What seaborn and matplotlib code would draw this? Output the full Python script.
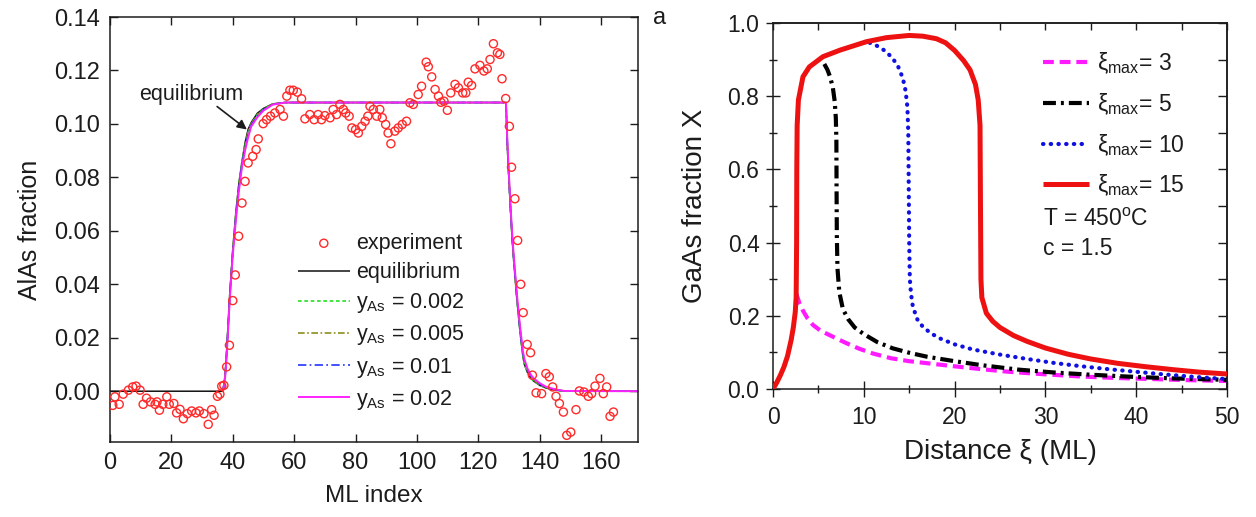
import matplotlib
matplotlib.use("Agg")
import matplotlib.pyplot as plt
from matplotlib.ticker import MultipleLocator, FormatStrFormatter
import seaborn as sns

# ---------------- AlAs fraction profile (left) ----------------
exp_ml = [
    0.9, 1.6, 3.0, 4.3, 6.0, 7.4, 8.5, 9.8, 10.8, 11.9,
    13.2, 14.7, 15.3, 16.1, 17.2, 18.5, 19.3, 20.8, 21.7, 22.8,
    23.9, 25.2, 26.6, 28.0, 29.1, 30.6, 32.0, 33.1, 33.9, 35.0,
    35.8, 36.4, 37.1, 38.0, 38.9, 40.0, 40.8, 41.9, 43.0, 44.0,
    45.0, 46.5, 47.6, 48.3, 49.9, 51.0, 52.3, 53.7, 55.4, 56.5,
    57.6, 58.6, 59.7, 61.0, 62.4, 63.5, 65.1, 66.5, 67.8, 68.9,
    70.0, 71.7, 72.7, 73.8, 74.9, 76.0, 76.8, 77.9, 78.8, 80.0,
    80.9, 82.0, 83.1, 84.0, 84.7, 85.8, 86.9, 87.9, 88.7, 89.8,
    90.6, 91.5, 92.8, 93.9, 95.2, 96.6, 97.7, 98.8, 100.4, 101.5,
    103.0, 103.7, 104.8, 105.9, 107.0, 107.8, 108.8, 109.9, 111.0, 112.4,
    113.5, 114.9, 115.9, 116.7, 117.8, 118.9, 120.5, 121.8, 122.9, 123.8,
    124.9, 126.2, 127.0, 127.7, 128.9, 130.1, 130.8, 131.9, 132.8, 133.8,
    134.6, 135.9, 137.0, 137.6, 138.8, 140.6, 142.0, 143.1, 144.2, 145.3,
    146.4, 147.7, 148.8, 150.1, 151.8, 152.9, 154.4, 155.8, 156.9, 158.0,
    159.6, 160.7, 161.8, 162.9, 164.0,
]
exp_frac = [
    -0.0053, -0.0021, -0.0049, -0.0011, 0.0004, 0.0016, 0.0019, 0.0004, -0.0049, -0.0026,
    -0.0040, -0.0049, -0.0040, -0.0071, -0.0049, -0.0021, -0.0049, -0.0046, -0.0081, -0.0068,
    -0.0103, -0.0084, -0.0074, -0.0081, -0.0074, -0.0084, -0.0124, -0.0069, -0.0090, -0.0019,
    -0.0011, 0.0019, 0.0022, 0.0091, 0.0172, 0.0339, 0.0435, 0.0580, 0.0704, 0.0785,
    0.0854, 0.0879, 0.0904, 0.0944, 0.1001, 0.1016, 0.1029, 0.1041, 0.1054, 0.1029,
    0.1104, 0.1126, 0.1126, 0.1119, 0.1094, 0.1019, 0.1035, 0.1016, 0.1035, 0.1016,
    0.1031, 0.1023, 0.1054, 0.1035, 0.1073, 0.1054, 0.1041, 0.1029, 0.0985, 0.0979,
    0.0966, 0.0991, 0.1010, 0.1029, 0.1066, 0.1054, 0.1029, 0.1054, 0.1023, 0.0998,
    0.0966, 0.0926, 0.0973, 0.0985, 0.0998, 0.1010, 0.1079, 0.1073, 0.1110, 0.1141,
    0.1231, 0.1214, 0.1176, 0.1129, 0.1104, 0.1081, 0.1085, 0.1051, 0.1116, 0.1148,
    0.1135, 0.1116, 0.1116, 0.1156, 0.1144, 0.1206, 0.1219, 0.1198, 0.1206, 0.1241,
    0.1300, 0.1266, 0.1260, 0.1169, 0.1095, 0.0991, 0.0838, 0.0720, 0.0564, 0.0400,
    0.0294, 0.0175, 0.0144, 0.0060, -0.0006, -0.0009, 0.0066, 0.0054, 0.0016, -0.0019,
    -0.0046, -0.0078, -0.0165, -0.0153, -0.0069, 0.0001, -0.0003, -0.0019, -0.0009, 0.0019,
    0.0048, -0.0009, 0.0016, -0.0094, -0.0078,
]

eq_ml = [0, 36.8, 37.5, 38, 39, 40, 41, 42, 43, 44, 45, 46, 48, 50, 53, 57,
         129, 129.5, 130, 130.5, 131, 131.5, 132, 132.5, 133, 133.5, 134, 134.5,
         135, 136, 137, 138, 140, 142, 145, 148, 172]
frac_equilibrium = [0, 0, 0.006, 0.015, 0.036, 0.053, 0.067, 0.078, 0.086, 0.093,
                    0.098, 0.1005, 0.104, 0.1058, 0.1075, 0.108, 0.108, 0.090, 0.078,
                    0.067, 0.057, 0.049, 0.042, 0.035, 0.029, 0.023, 0.018, 0.013,
                    0.010, 0.007, 0.005, 0.0038, 0.0022, 0.0012, 0.0004, 0.0, 0.0]

kin_ml = [36.8, 37.5, 38, 39, 40, 41, 42, 43, 44, 45, 46, 48, 50, 53, 57,
          129, 129.5, 130, 130.5, 131, 131.5, 132, 132.5, 133, 133.5, 134, 134.5,
          135, 136, 137, 138, 140, 142, 145, 148, 172]
frac_y002 = [0, 0.006, 0.015, 0.036, 0.053, 0.066, 0.077, 0.086, 0.092, 0.097,
             0.100, 0.1035, 0.1056, 0.1074, 0.108, 0.108, 0.090, 0.078, 0.067, 0.057,
             0.049, 0.042, 0.035, 0.029, 0.023, 0.018, 0.013, 0.010, 0.007, 0.005,
             0.0039, 0.0023, 0.0013, 0.0005, 0.0, 0.0]
frac_y005 = [0, 0.006, 0.014, 0.035, 0.052, 0.066, 0.077, 0.085, 0.092, 0.097,
             0.100, 0.1033, 0.1055, 0.1074, 0.108, 0.108, 0.091, 0.079, 0.068, 0.058,
             0.050, 0.043, 0.036, 0.030, 0.024, 0.019, 0.014, 0.011, 0.008, 0.0055,
             0.0042, 0.0025, 0.0014, 0.0006, 0.0001, 0.0]
frac_y01 = [0, 0.005, 0.014, 0.035, 0.052, 0.065, 0.076, 0.085, 0.091, 0.096,
            0.0995, 0.103, 0.1053, 0.1073, 0.108, 0.108, 0.091, 0.079, 0.068, 0.058,
            0.050, 0.043, 0.036, 0.030, 0.024, 0.019, 0.0145, 0.011, 0.008, 0.006,
            0.0045, 0.0027, 0.0015, 0.0006, 0.0001, 0.0]
frac_y02 = [0, 0.005, 0.013, 0.034, 0.051, 0.064, 0.075, 0.084, 0.090, 0.095,
            0.099, 0.1025, 0.105, 0.1072, 0.108, 0.108, 0.092, 0.080, 0.069, 0.059,
            0.051, 0.044, 0.037, 0.031, 0.025, 0.020, 0.015, 0.012, 0.0085, 0.0063,
            0.0048, 0.003, 0.0017, 0.0007, 0.0001, 0.0]

# ---------------- GaAs fraction vs distance (right) ----------------
xi_15 = [0, 0.4, 0.8, 1.2, 1.6, 2.0, 2.25, 2.45, 2.55, 2.6, 2.62, 2.66, 2.8, 3.3, 4.0,
         5.5, 7.4, 10.3, 12.5, 15.0, 16.5, 18.0, 19.0, 20.0, 21.0, 21.7, 22.3, 22.6,
         22.8, 22.85, 22.9, 23.0, 23.5, 24.2, 25.0, 26.5, 28.0, 30.0, 32.5, 35.0,
         38.0, 41.0, 44.0, 47.0, 50.0]
gaas_15 = [0, 0.017, 0.037, 0.060, 0.090, 0.134, 0.170, 0.210, 0.250, 0.400, 0.600,
           0.720, 0.790, 0.853, 0.880, 0.908, 0.926, 0.949, 0.960, 0.966, 0.964,
           0.957, 0.946, 0.925, 0.897, 0.872, 0.832, 0.790, 0.720, 0.500, 0.300,
           0.250, 0.207, 0.185, 0.168, 0.146, 0.130, 0.112, 0.095, 0.082, 0.070,
           0.061, 0.053, 0.046, 0.041]
xi_3 = [2.58, 2.9, 3.3, 3.8, 4.4, 5.2, 6.0, 7.0, 8.1, 9.5, 11.0, 13.0, 15.0, 17.5,
        20.0, 23.0, 26.0, 30.0, 34.0, 38.0, 42.0, 46.0, 50.0]
gaas_3 = [0.260, 0.235, 0.214, 0.193, 0.175, 0.160, 0.150, 0.138, 0.125, 0.110, 0.097,
          0.084, 0.076, 0.069, 0.062, 0.054, 0.047, 0.040, 0.034, 0.030, 0.027, 0.024,
          0.022]
xi_5 = [5.65, 6.0, 6.3, 6.6, 6.8, 6.92, 6.98, 7.0, 7.03, 7.1, 7.3, 7.7, 8.3, 9.0, 10.0,
        11.5, 13.2, 15.0, 17.0, 20.0, 23.0, 27.0, 31.0, 35.0, 39.0, 44.0, 50.0]
gaas_5 = [0.888, 0.872, 0.852, 0.822, 0.785, 0.740, 0.680, 0.550, 0.420, 0.330, 0.265,
          0.218, 0.190, 0.168, 0.150, 0.128, 0.111, 0.099, 0.088, 0.076, 0.065, 0.053,
          0.045, 0.039, 0.034, 0.029, 0.025]
xi_10 = [10.65, 11.5, 12.4, 13.2, 13.8, 14.3, 14.6, 14.8, 14.9, 14.95, 15.0, 15.07,
         15.2, 15.4, 15.9, 16.5, 17.4, 18.4, 20.0, 22.0, 25.0, 28.0, 31.0, 34.0, 37.0,
         40.0, 43.0, 46.5, 50.0]
gaas_10 = [0.946, 0.937, 0.923, 0.903, 0.880, 0.849, 0.815, 0.770, 0.700, 0.550, 0.400,
           0.300, 0.260, 0.225, 0.190, 0.170, 0.152, 0.138, 0.122, 0.108, 0.094, 0.082,
           0.071, 0.062, 0.054, 0.047, 0.040, 0.033, 0.027]

# ---------------- style ----------------
sns.set_theme(style="ticks")
INK = "#1c1c1c"
plt.rcParams.update({
    "font.family": ["Liberation Sans", "DejaVu Sans"],
    "mathtext.fontset": "custom",
    "mathtext.rm": "Liberation Sans",
    "mathtext.it": "Liberation Sans:italic",
    "mathtext.bf": "Liberation Sans:bold",
    "axes.edgecolor": INK,
    "axes.linewidth": 1.1,
    "text.color": INK,
    "axes.labelcolor": INK,
    "xtick.color": INK,
    "ytick.color": INK,
    "lines.solid_capstyle": "butt",
})

fig = plt.figure(figsize=(12.56, 5.17), dpi=100)
W, H = 1256, 517
axL = fig.add_axes([110 / W, (H - 442) / H, 528 / W, 425 / H])
axR = fig.add_axes([773 / W, (H - 389) / H, 454 / W, 366 / H])

# ----- left panel -----
sns.lineplot(x=eq_ml, y=frac_equilibrium, ax=axL, color="#111111", lw=1.1,
             estimator=None, sort=False, label="equilibrium")
kin_styles = [
    (frac_y002, "#22e022", (0, (2.2, 1.6)), 1.2, r"y$_{\mathrm{As}}$ = 0.002"),
    (frac_y005, "#8c8c1e", (0, (4, 1.5, 1, 1.5)), 1.2, r"y$_{\mathrm{As}}$ = 0.005"),
    (frac_y01, "#2233ff", (0, (5, 2, 1, 2)), 1.2, r"y$_{\mathrm{As}}$ = 0.01"),
    (frac_y02, "#ff22ff", "-", 1.4, r"y$_{\mathrm{As}}$ = 0.02"),
]
for ys, col, ls, lw, lab in kin_styles:
    sns.lineplot(x=kin_ml, y=ys, ax=axL, color=col, linestyle=ls, lw=lw,
                 estimator=None, sort=False, label=lab)
sns.scatterplot(x=exp_ml, y=exp_frac, ax=axL, marker="o", s=34,
                facecolor="none", edgecolor="#ff2a2a", linewidth=1.0,
                label="experiment", zorder=3)

axL.set_xlim(0, 172)
axL.set_ylim(-0.019, 0.14)
axL.xaxis.set_major_locator(MultipleLocator(20))
axL.yaxis.set_major_locator(MultipleLocator(0.02))
axL.yaxis.set_major_formatter(FormatStrFormatter("%.2f"))
axL.tick_params(which="major", direction="in", length=6, width=1.0,
                top=True, right=True, labelsize=17, pad=7)
for s in axL.spines.values():
    s.set_visible(True)
axL.set_xlabel("ML index", fontsize=17.5, labelpad=8)
axL.set_ylabel("AlAs fraction", fontsize=18, labelpad=9)

h, l = axL.get_legend_handles_labels()
order = [l.index("experiment")] + [i for i, t in enumerate(l) if t != "experiment"]
axL.legend([h[i] for i in order], [l[i] for i in order], loc="upper left",
           bbox_to_anchor=(0.356, 0.492), frameon=False, fontsize=15.5,
           handlelength=2.4, handletextpad=0.3, labelspacing=0.38,
           borderpad=0, borderaxespad=0)

axL.text(26.5, 0.111, "equilibrium", ha="center", va="center", fontsize=15.5)
axL.annotate("", xy=(44.6, 0.0979), xytext=(34.9, 0.1065),
             arrowprops=dict(arrowstyle="-|>", color=INK, lw=1.2,
                             mutation_scale=14, shrinkA=0, shrinkB=0))

# ----- right panel -----
r_styles = [
    (xi_3, gaas_3, "#ff1aff", (0, (2.6, 1.4)), 3.0, r"ξ$_{\mathrm{max}}$= 3", 2),
    (xi_5, gaas_5, "#000000", (0, (3.1, 1.2, 0.7, 1.2)), 3.0, r"ξ$_{\mathrm{max}}$= 5", 2),
    (xi_10, gaas_10, "#1010e0", (0, (0.1, 1.75)), 3.0, r"ξ$_{\mathrm{max}}$= 10", 2),
    (xi_15, gaas_15, "#ee1111", "-", 3.6, r"ξ$_{\mathrm{max}}$= 15", 3),
]
for xs, ys, col, ls, lw, lab, z in r_styles:
    sns.lineplot(x=xs, y=ys, ax=axR, color=col, linestyle=ls, lw=lw,
                 estimator=None, sort=False, label=lab, zorder=z,
                 dash_capstyle="round" if col == "#1010e0" else "butt")

axR.set_xlim(0, 50)
axR.set_ylim(0, 1.0)
axR.xaxis.set_major_locator(MultipleLocator(10))
axR.xaxis.set_minor_locator(MultipleLocator(5))
axR.yaxis.set_major_locator(MultipleLocator(0.2))
axR.yaxis.set_minor_locator(MultipleLocator(0.1))
axR.yaxis.set_major_formatter(FormatStrFormatter("%.1f"))
axR.tick_params(axis="x", which="major", direction="inout", length=11, width=1.0,
                labelsize=16.5, pad=7)
axR.tick_params(axis="x", which="minor", direction="inout", length=6, width=1.0)
axR.tick_params(axis="y", which="major", direction="inout", length=9.5, width=1.0,
                labelsize=16.5, pad=5)
axR.tick_params(axis="y", which="minor", direction="inout", length=6, width=1.0)
for s in axR.spines.values():
    s.set_visible(True)

top = axR.secondary_xaxis("top")
top.xaxis.set_major_locator(MultipleLocator(5))
top.tick_params(which="major", direction="in", length=5, width=1.0, labeltop=False)
right = axR.secondary_yaxis("right")
right.yaxis.set_major_locator(MultipleLocator(0.1))
right.tick_params(which="major", direction="in", length=6.5, width=1.0, labelright=False)

axR.set_xlabel("Distance ξ (ML)", fontsize=20, labelpad=7)
axR.set_ylabel("GaAs fraction X", fontsize=20, labelpad=14)

axR.legend(loc="upper left", bbox_to_anchor=(0.595, 0.925), frameon=False,
           fontsize=16.5, handlelength=2.0, handletextpad=0.35, labelspacing=0.65,
           borderpad=0, borderaxespad=0)
axR.text(0.595, 0.462, r"T = 450$^{\mathrm{o}}$C", transform=axR.transAxes,
         va="center", ha="left", fontsize=16.5)
axR.text(0.595, 0.384, "c = 1.5", transform=axR.transAxes,
         va="center", ha="left", fontsize=16.5)

fig.text(660 / W, 1 - 18 / H, "a", ha="center", va="center", fontsize=17)

fig.savefig("out.png", dpi=100)
